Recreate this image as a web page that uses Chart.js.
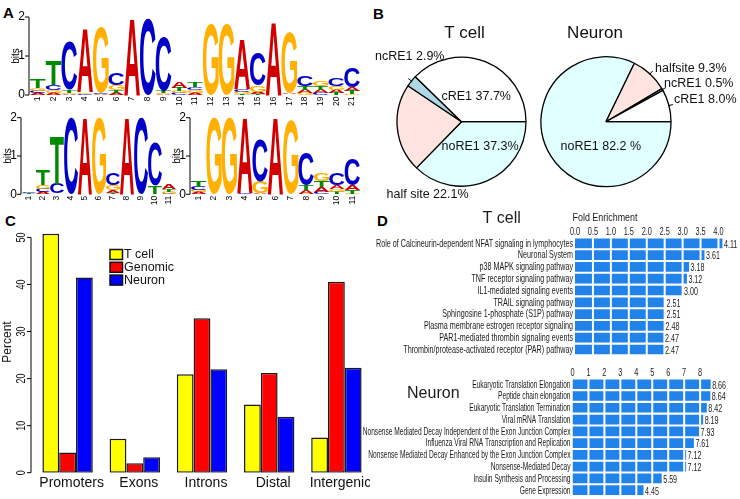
<!DOCTYPE html>
<html>
<head>
<meta charset="utf-8">
<script src="https://cdn.jsdelivr.net/npm/chart.js@4.4.1/dist/chart.umd.min.js"></script>
<style>
  body { margin: 0; background: #fff; width: 740px; height: 499px; overflow: hidden; position: relative; font-family: "Liberation Sans", Arial, sans-serif; }
  canvas { position: absolute; }
  .tag { position: absolute; font: bold 15px "Liberation Sans", Arial, sans-serif; line-height: 15px; color: #000; }
</style>
</head>
<body>
<div class="tag" style="left:3px;top:5px">A</div>
<div class="tag" style="left:373px;top:6px">B</div>
<div class="tag" style="left:5px;top:213px">C</div>
<div class="tag" style="left:377px;top:213px">D</div>

<canvas id="logoTop" width="370" height="112" style="left:0;top:0"></canvas>
<canvas id="logoLeft" width="185" height="100" style="left:0;top:105px"></canvas>
<canvas id="logoRight" width="205" height="100" style="left:165px;top:105px"></canvas>
<canvas id="pieTcell" width="185" height="205" style="left:370px;top:0"></canvas>
<canvas id="pieNeuron" width="210" height="205" style="left:530px;top:0"></canvas>
<canvas id="foldTcell" width="370" height="160" style="left:370px;top:200px"></canvas>
<canvas id="foldNeuron" width="400" height="164" style="left:340px;top:335px"></canvas>
<canvas id="regions" width="370" height="299" style="left:0;top:200px"></canvas>

<script>
// ---- data ----
const bases = ["A", "C", "G", "T"];

// panel A: letter heights (bits) per position
const logoTopPos = ["1","2","3","4","5","6","7","8","9","10","11","12","13","14","15","16","17","18","19","20","21"];
const logoTopA = [0.05, 0.05, 0.03, 1.62, 0.02, 0.06, 1.96, 0, 0.03, 0.16, 0.06, 0, 0, 1.25, 0.05, 1.85, 0.04, 0.08, 0.08, 0.08, 0.10];
const logoTopC = [0.06, 0.12, 1.25, 0.02, 0.02, 0.30, 0, 1.96, 1.40, 0.05, 0.08, 0, 0, 0.08, 0.85, 0, 0.01, 0.25, 0.05, 0.20, 0.50];
const logoTopG = [0.07, 0.08, 0.03, 0.04, 1.68, 0.12, 0, 0, 0.03, 0.05, 0.06, 1.82, 1.82, 0.05, 0.16, 0, 1.55, 0.05, 0.12, 0.10, 0.03];
const logoTopT = [0.22, 0.62, 0.07, 0.01, 0.01, 0.07, 0, 0, 0.06, 0.08, 0.12, 0, 0, 0.02, 0.03, 0, 0.01, 0.09, 0.10, 0.05, 0.08];

const logoLeftPos = ["1","2","3","4","5","6","7","8","9","10","11"];
const logoLeftA = [0.01, 0.05, 0.01, 0, 2.0, 0, 0.08, 2.0, 0, 0.01, 0.12];
const logoLeftC = [0.03, 0.10, 0.26, 2.0, 0, 0, 0.30, 0, 2.0, 1.15, 0.02];
const logoLeftG = [0.01, 0.10, 0.01, 0, 0, 1.98, 0.12, 0, 0, 0.01, 0.05];
const logoLeftT = [0.02, 0.42, 1.25, 0, 0, 0, 0.04, 0, 0, 0.20, 0.06];

const logoRightPos = ["1","2","3","4","5","6","7","8","9","10","11"];
const logoRightA = [0.05, 0, 0, 1.95, 0.03, 2.0, 0, 0.10, 0.14, 0.10, 0.12];
const logoRightC = [0.10, 0, 0, 0.03, 1.10, 0, 0, 0.85, 0.05, 0.32, 0.70];
const logoRightG = [0.05, 2.0, 2.0, 0, 0.30, 0, 1.94, 0.02, 0.20, 0.08, 0.02];
const logoRightT = [0.17, 0, 0, 0, 0.01, 0, 0, 0.12, 0.15, 0.05, 0.10];

// panel B
const pieTcellCats = ["cRE1", "ncRE1", "half site", "noRE1"];
const pieTcellVals = [37.7, 2.9, 22.1, 37.3];
const pieTcellText = ["cRE1 37.7%", "ncRE1 2.9%", "half site 22.1%", "noRE1 37.3%"];
const pieNeuronCats = ["cRE1", "ncRE1", "halfsite", "noRE1"];
const pieNeuronVals = [8.0, 0.5, 9.3, 82.2];
const pieNeuronText = ["cRE1 8.0%", "ncRE1 0.5%", "halfsite 9.3%", "noRE1 82.2 %"];

// panel C
const regionCats = ["Promoters", "Exons", "Introns", "Distal", "Intergenic"];
const tcellPct = [50.8, 7.2, 20.9, 14.5, 7.5];
const genomicPct = [4.3, 2.0, 32.8, 21.2, 40.6];
const neuronPct = [41.5, 3.3, 22.0, 11.9, 22.3];
const percentTicks = [0, 10, 20, 30, 40, 50];

// panel D
const tcellPaths = [
  "Role of Calcineurin-dependent NFAT signaling in lymphocytes",
  "Neuronal System",
  "p38 MAPK signaling pathway",
  "TNF receptor signaling pathway",
  "IL1-mediated signaling events",
  "TRAIL signaling pathway",
  "Sphingosine 1-phosphate (S1P) pathway",
  "Plasma membrane estrogen receptor signaling",
  "PAR1-mediated thrombin signaling events",
  "Thrombin/protease-activated receptor (PAR) pathway"
];
const tcellFold = [4.11, 3.61, 3.18, 3.12, 3.00, 2.51, 2.51, 2.48, 2.47, 2.47];
const tcellFoldTicks = ["0.0", "0.5", "1.0", "1.5", "2.0", "2.5", "3.0", "3.5", "4.0"];

const neuronPaths = [
  "Eukaryotic Translation Elongation",
  "Peptide chain elongation",
  "Eukaryotic Translation Termination",
  "Viral mRNA Translation",
  "Nonsense Mediated Decay Independent of the Exon Junction Complex",
  "Influenza Viral RNA Transcription and Replication",
  "Nonsense Mediated Decay Enhanced by the Exon Junction Complex",
  "Nonsense-Mediated Decay",
  "Insulin Synthesis and Processing",
  "Gene Expression"
];
const neuronFold = [8.66, 8.64, 8.42, 8.19, 7.93, 7.61, 7.12, 7.12, 5.59, 4.45];
const neuronFoldTicks = ["0", "1", "2", "3", "4", "5", "6", "7", "8"];

// ---- styles ----
const FONT = "'Liberation Sans', Arial, sans-serif";
const baseColors = { A: "#d00000", C: "#0000c8", G: "#ffb000", T: "#008a00" };
const pieColors = ["#ffffff", "#add8e6", "#ffe4e1", "#e0ffff"];

function squeezed(ctx, text, x, y, align, sx) {
  ctx.save();
  ctx.translate(x, y);
  ctx.scale(sx, 1);
  ctx.textAlign = align;
  ctx.fillText(text, 0, 0);
  ctx.restore();
}

function drawLetter(ctx, ch, x0, x1, yt, yb) {
  if (yb - yt < 0.4) return;
  ctx.font = "bold 100px " + FONT;
  const m = ctx.measureText(ch);
  const w = m.actualBoundingBoxLeft + m.actualBoundingBoxRight;
  const h = m.actualBoundingBoxAscent + m.actualBoundingBoxDescent;
  ctx.save();
  ctx.translate(x0, yt);
  ctx.scale((x1 - x0) / w, (yb - yt) / h);
  ctx.fillStyle = baseColors[ch];
  ctx.textAlign = "left";
  ctx.textBaseline = "alphabetic";
  ctx.fillText(ch, m.actualBoundingBoxLeft, m.actualBoundingBoxAscent);
  ctx.restore();
}

const logoPlugin = {
  id: "logo",
  afterDatasetsDraw(chart) {
    const { ctx, chartArea } = chart;
    const xs = chart.scales.x, ys = chart.scales.y;
    const colW = xs.width / chart.data.labels.length;
    chart.data.labels.forEach((lab, i) => {
      const cx = xs.getPixelForValue(i);
      const stack = chart.data.datasets
        .map(d => ({ b: d.label, v: d.data[i] }))
        .filter(s => s.v > 0)
        .sort((a, b) => a.v - b.v);
      let cum = 0;
      stack.forEach(s => {
        const yb = ys.getPixelForValue(cum);
        const yt = ys.getPixelForValue(cum + s.v);
        cum += s.v;
        drawLetter(ctx, s.b, cx - colW * 0.5, cx + colW * 0.5, yt, yb);
      });
    });
    // axis
    const ax = chartArea.left - 1;
    ctx.save();
    ctx.strokeStyle = "#000";
    ctx.lineWidth = 1;
    ctx.beginPath();
    ctx.moveTo(ax, ys.getPixelForValue(0));
    ctx.lineTo(ax, ys.getPixelForValue(2));
    [0, 1, 2].forEach(v => {
      ctx.moveTo(ax, ys.getPixelForValue(v));
      ctx.lineTo(ax - 4, ys.getPixelForValue(v));
    });
    ctx.stroke();
    ctx.fillStyle = "#000";
    ctx.font = "12px " + FONT;
    ctx.textAlign = "right";
    ctx.textBaseline = "middle";
    [0, 1, 2].forEach(v => ctx.fillText(String(v), ax - 4, ys.getPixelForValue(v)));
    ctx.save();
    ctx.translate(ax - 13, ys.getPixelForValue(1));
    ctx.rotate(-Math.PI / 2);
    ctx.font = "10px " + FONT;
    ctx.textAlign = "center";
    ctx.fillText("bits", 0, 0);
    ctx.restore();
    ctx.font = "8.5px " + FONT;
    chart.data.labels.forEach((lab, i) => {
      ctx.save();
      ctx.translate(xs.getPixelForValue(i), ys.getPixelForValue(0) + 1.5);
      ctx.rotate(-Math.PI / 2);
      ctx.textAlign = "right";
      ctx.textBaseline = "middle";
      ctx.fillText(lab, 0, 0);
      ctx.restore();
    });
    ctx.restore();
  }
};

function makeLogo(id, positions, a, c, g, t, padding) {
  const heights = [a, c, g, t];
  return new Chart(document.getElementById(id), {
    type: "bar",
    data: {
      labels: positions,
      datasets: bases.map((b, k) => ({ label: b, data: heights[k], backgroundColor: "rgba(0,0,0,0)" }))
    },
    options: {
      responsive: false,
      animation: false,
      layout: { padding },
      plugins: { legend: { display: false }, tooltip: { enabled: false } },
      scales: {
        x: { display: false, stacked: true },
        y: { display: false, stacked: true, min: 0, max: 2 }
      }
    },
    plugins: [logoPlugin]
  });
}

makeLogo("logoTop", logoTopPos, logoTopA, logoTopC, logoTopG, logoTopT, { left: 30, right: 10, top: 17, bottom: 17 });
makeLogo("logoLeft", logoLeftPos, logoLeftA, logoLeftC, logoLeftG, logoLeftT, { left: 22, right: 9, top: 12.7, bottom: 10.7 });
makeLogo("logoRight", logoRightPos, logoRightA, logoRightC, logoRightG, logoRightT, { left: 26, right: 10, top: 12.7, bottom: 10.7 });

// ---- panel B ----
const pieLabelPlugin = {
  id: "pieLabels",
  afterDraw(chart, args, opts) {
    const { ctx } = chart;
    const arcs = chart.getDatasetMeta(0).data;
    const cx = arcs[0].x, cy = arcs[0].y, r = arcs[0].outerRadius;
    ctx.save();
    ctx.fillStyle = "#111";
    ctx.font = "17px " + FONT;
    ctx.textAlign = "center";
    ctx.textBaseline = "middle";
    ctx.fillText(opts.title, cx + opts.titleAt[0], cy + opts.titleAt[1]);
    ctx.font = "12.5px " + FONT;
    ctx.textAlign = "left";
    opts.text.forEach((txt, i) => {
      ctx.fillText(txt, cx + opts.textAt[i][0], cy + opts.textAt[i][1]);
    });
    ctx.strokeStyle = "#000";
    ctx.lineWidth = 1;
    opts.ticks.forEach(cat => {
      const a = arcs[chart.data.labels.indexOf(cat)];
      const m = (a.startAngle + a.endAngle) / 2;
      ctx.beginPath();
      ctx.moveTo(cx + (r - 1) * Math.cos(m), cy + (r - 1) * Math.sin(m));
      ctx.lineTo(cx + (r + 4) * Math.cos(m), cy + (r + 4) * Math.sin(m));
      ctx.stroke();
    });
    ctx.restore();
  }
};

function makePie(id, cats, vals, padding, radius, labelOpts) {
  // R draws counter-clockwise from 3 o'clock; Chart.js goes clockwise, so reverse
  return new Chart(document.getElementById(id), {
    type: "pie",
    data: {
      labels: cats.slice().reverse(),
      datasets: [{
        data: vals.slice().reverse(),
        backgroundColor: pieColors.slice().reverse(),
        borderColor: "#000",
        borderWidth: 1.3
      }]
    },
    options: {
      responsive: false,
      animation: false,
      rotation: 90,
      radius,
      layout: { padding },
      plugins: { legend: { display: false }, tooltip: { enabled: false }, pieLabels: labelOpts }
    },
    plugins: [pieLabelPlugin]
  });
}

makePie("pieTcell", pieTcellCats, pieTcellVals, { left: 21.5, right: 23.5, top: 51.7, bottom: 13.3 }, 64.5, {
  title: "T cell",
  titleAt: [3, -88],
  text: pieTcellText,
  textAt: [[-20, -25], [-86.5, -64.7], [-75, 72.6], [-20, 25]],
  ticks: ["ncRE1"]
});
makePie("pieNeuron", pieNeuronCats, pieNeuronVals, { left: 6, right: 64, top: 51.7, bottom: 13.3 }, 65, {
  title: "Neuron",
  titleAt: [-11, -88],
  text: pieNeuronText,
  textAt: [[68, -21.7], [58, -38.4], [49, -53.4], [-45.5, 25]],
  ticks: ["cRE1", "ncRE1", "halfsite"]
});

// ---- panel C ----
const regionAxisPlugin = {
  id: "regionAxis",
  afterDraw(chart) {
    const { ctx, chartArea } = chart;
    const xs = chart.scales.x, ys = chart.scales.y;
    const ax = chartArea.left - 3;
    ctx.save();
    ctx.strokeStyle = "#000";
    ctx.lineWidth = 1;
    ctx.beginPath();
    ctx.moveTo(ax, ys.getPixelForValue(percentTicks[0]));
    ctx.lineTo(ax, ys.getPixelForValue(percentTicks[percentTicks.length - 1]));
    percentTicks.forEach(v => {
      ctx.moveTo(ax, ys.getPixelForValue(v));
      ctx.lineTo(ax - 4, ys.getPixelForValue(v));
    });
    ctx.stroke();
    ctx.fillStyle = "#111";
    ctx.font = "12px " + FONT;
    ctx.textBaseline = "middle";
    percentTicks.forEach(v => {
      ctx.save();
      ctx.translate(ax - 9, ys.getPixelForValue(v));
      ctx.rotate(-Math.PI / 2);
      squeezed(ctx, String(v), 0, 0, "center", 0.75);
      ctx.restore();
    });
    ctx.save();
    ctx.translate(ax - 23, chartArea.top + 114);
    ctx.rotate(-Math.PI / 2);
    ctx.textAlign = "center";
    ctx.fillText("Percent", 0, 0);
    ctx.restore();
    ctx.font = "14px " + FONT;
    ctx.textAlign = "center";
    chart.data.labels.forEach((lab, i) => {
      ctx.fillText(lab, xs.getPixelForValue(i) + 4, chartArea.bottom + 10);
    });
    // legend
    ctx.font = "12.5px " + FONT;
    ctx.textAlign = "left";
    ctx.lineWidth = 1.5;
    chart.data.datasets.forEach((ds, k) => {
      const y = chartArea.top + 26.5 + k * 12.8;
      const x = chartArea.left + 76;
      ctx.fillStyle = ds.backgroundColor;
      ctx.fillRect(x, y - 5, 12.5, 10);
      ctx.strokeStyle = "#111";
      ctx.strokeRect(x, y - 5, 12.5, 10);
      ctx.fillStyle = "#111";
      ctx.fillText(ds.label, x + 14, y + 0.5);
    });
    ctx.restore();
  }
};

new Chart(document.getElementById("regions"), {
  type: "bar",
  data: {
    labels: regionCats,
    datasets: [
      { label: "T cell", data: tcellPct, backgroundColor: "#ffff00" },
      { label: "Genomic", data: genomicPct, backgroundColor: "#ff0000" },
      { label: "Neuron", data: neuronPct, backgroundColor: "#0000ff" }
    ]
  },
  options: {
    responsive: false,
    animation: false,
    layout: { padding: { left: 34, right: 0, top: 28, bottom: 26.3 } },
    datasets: {
      bar: { categoryPercentage: 0.75, barPercentage: 1, borderColor: "#1a1a1a", borderWidth: 1.5, borderSkipped: false }
    },
    plugins: { legend: { display: false }, tooltip: { enabled: false } },
    scales: {
      x: { display: false },
      y: { display: false, min: 0, max: 52 }
    }
  },
  plugins: [regionAxisPlugin]
});

// ---- panel D ----
const foldPlugin = {
  id: "foldAxis",
  afterDatasetsDraw(chart, args, opts) {
    const { ctx, chartArea } = chart;
    const xs = chart.scales.x;
    ctx.save();
    ctx.strokeStyle = "#fff";
    ctx.lineWidth = 2;
    opts.ticks.forEach(t => {
      const v = parseFloat(t);
      if (v === 0) return;
      const x = xs.getPixelForValue(v);
      ctx.beginPath();
      ctx.moveTo(x, chartArea.top);
      ctx.lineTo(x, chartArea.bottom);
      ctx.stroke();
    });
    ctx.restore();
  },
  afterDraw(chart, args, opts) {
    const { ctx, chartArea } = chart;
    const xs = chart.scales.x, ys = chart.scales.y;
    ctx.save();
    ctx.fillStyle = "#1a1a1a";
    ctx.textBaseline = "middle";
    ctx.font = "10.5px " + FONT;
    opts.ticks.forEach(t => {
      squeezed(ctx, t, xs.getPixelForValue(parseFloat(t)), chartArea.top - 5.5, "center", 0.7);
    });
    const vals = chart.data.datasets[0].data;
    chart.data.labels.forEach((lab, i) => {
      const y = ys.getPixelForValue(i) + 0.5;
      squeezed(ctx, lab, chartArea.left - 2, y, "right", opts.squeeze);
      squeezed(ctx, vals[i].toFixed(2), xs.getPixelForValue(vals[i]) + 1.5, y + 1, "left", 0.68);
    });
    if (opts.axisTitle) {
      ctx.font = "10.5px " + FONT;
      squeezed(ctx, opts.axisTitle, chartArea.left + 30, chartArea.top - 19.5, "center", 0.85);
    }
    ctx.font = "16px " + FONT;
    ctx.textAlign = "center";
    ctx.fillText(opts.title, opts.titleAt[0], opts.titleAt[1]);
    ctx.restore();
  }
};

function makeFold(id, cats, vals, max, padding, axisOpts) {
  return new Chart(document.getElementById(id), {
    type: "bar",
    data: { labels: cats, datasets: [{ data: vals, backgroundColor: "#2182ea" }] },
    options: {
      indexAxis: "y",
      responsive: false,
      animation: false,
      layout: { padding },
      datasets: { bar: { categoryPercentage: 1, barPercentage: 0.82 } },
      plugins: { legend: { display: false }, tooltip: { enabled: false }, foldAxis: axisOpts },
      scales: {
        x: { display: false, min: 0, max },
        y: { display: false }
      }
    },
    plugins: [foldPlugin]
  });
}

makeFold("foldTcell", tcellPaths, tcellFold, 4.6, { left: 205, right: 0, top: 37.4, bottom: 4.6 }, {
  ticks: tcellFoldTicks,
  axisTitle: "Fold Enrichment",
  title: "T cell",
  titleAt: [131.7, 19],
  squeeze: 0.685
});
makeFold("foldNeuron", neuronPaths, neuronFold, 10.5, { left: 232.5, right: 0, top: 43.4, bottom: 3 }, {
  ticks: neuronFoldTicks,
  title: "Neuron",
  titleAt: [93.3, 59],
  squeeze: 0.63
});
</script>
</body>
</html>
